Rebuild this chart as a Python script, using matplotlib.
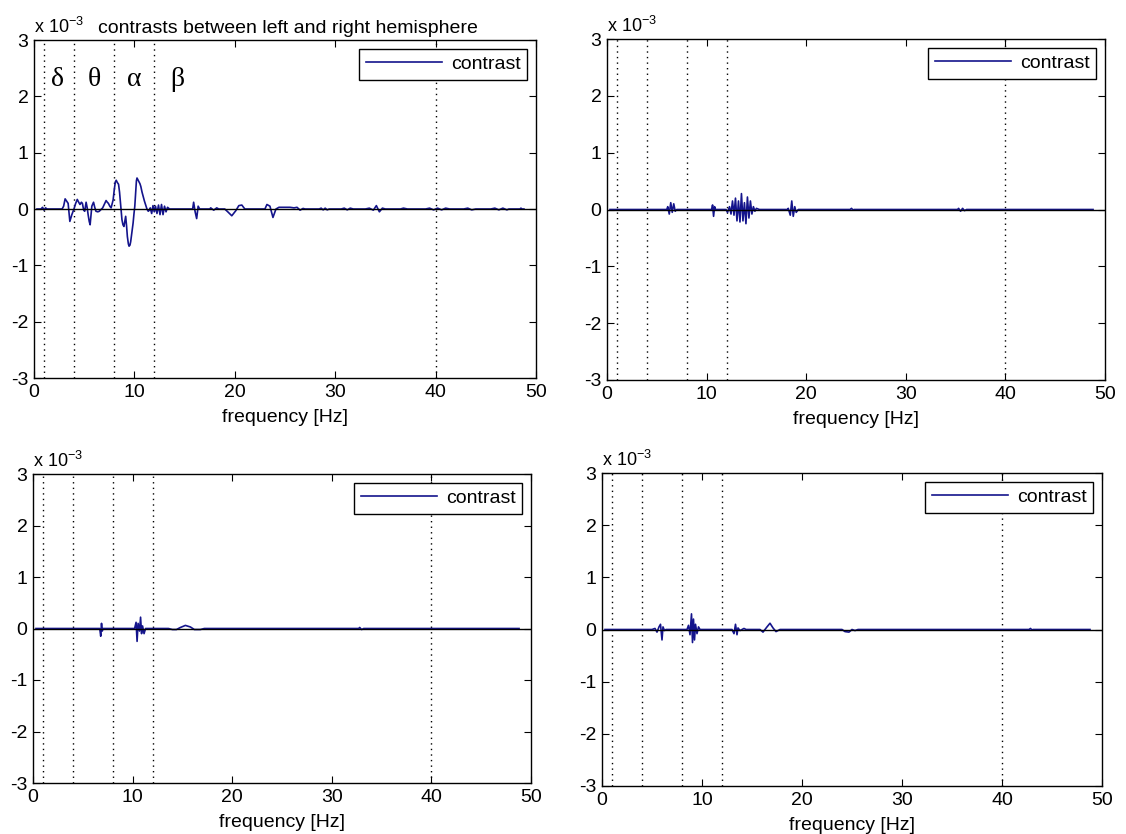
import numpy as np
import matplotlib
matplotlib.use('Agg')
import matplotlib.pyplot as plt

plt.rcParams['font.family'] = ['Liberation Sans', 'DejaVu Sans']
plt.rcParams['mathtext.default'] = 'regular'
plt.rcParams['axes.unicode_minus'] = False
plt.rcParams['font.size'] = 14

band_edges = [1, 4, 8, 12, 40]
band_names = ['δ', 'θ', 'α', 'β']
band_name_x = [2.3, 6.0, 10.0, 14.3]
band_name_y = 2.3
xticks = [0, 10, 20, 30, 40, 50]
yticks = [-3, -2, -1, 0, 1, 2, 3]
title_tl = 'contrasts between left and right hemisphere'

# contrast traces: (frequency [Hz], contrast [x 1e-3])
trace_tl = [(0.3, 0), (0.7, 0), (0.85, 0.03), (1.0, -0.02), (1.15, 0.02), (1.3, 0), (2.8, 0),
            (2.95, 0.05), (3.1, 0.18), (3.25, 0.14), (3.4, 0.1), (3.57, -0.22), (3.77, -0.1),
            (3.98, 0.0), (4.15, 0.1), (4.31, 0.17), (4.45, 0.12), (4.58, 0.08), (4.72, 0.12),
            (4.82, 0.1), (4.95, -0.02), (5.05, -0.04), (5.19, 0.12), (5.3, 0.02), (5.39, -0.1),
            (5.5, -0.22), (5.59, -0.28), (5.68, -0.1), (5.76, 0.05), (5.93, 0.12), (6.05, 0.03),
            (6.17, -0.04), (6.35, -0.05), (6.5, -0.04), (6.84, 0.02), (7.0, 0.08), (7.18, 0.15),
            (7.3, 0.12), (7.41, 0.1), (7.55, 0.05), (7.68, 0.02), (7.8, 0.1), (7.88, 0.16),
            (8.0, 0.35), (8.1, 0.48), (8.19, 0.51), (8.3, 0.47), (8.42, 0.44), (8.52, 0.3),
            (8.62, 0.1), (8.7, -0.08), (8.76, -0.19), (8.86, -0.28), (8.96, -0.31), (9.05, -0.22),
            (9.13, -0.13), (9.22, -0.3), (9.3, -0.49), (9.4, -0.62), (9.47, -0.66), (9.56, -0.64),
            (9.63, -0.58), (9.75, -0.42), (9.87, -0.25), (9.96, -0.08), (10.04, 0.05), (10.12, 0.28),
            (10.2, 0.5), (10.26, 0.55), (10.35, 0.52), (10.44, 0.49), (10.55, 0.45), (10.64, 0.4),
            (10.76, 0.3), (10.88, 0.22), (11.0, 0.14), (11.11, 0.08), (11.25, 0.0), (11.38, -0.04),
            (11.5, -0.02), (11.58, 0.02), (11.72, -0.08), (11.85, 0.06), (11.98, -0.05), (12.1, 0.05),
            (12.25, -0.08), (12.4, 0.07), (12.55, -0.1), (12.7, 0.08), (12.85, -0.1), (13.0, 0.05),
            (13.15, -0.05), (13.3, 0.03), (13.5, 0.0), (15.8, 0), (15.9, 0.12), (16.05, -0.05),
            (16.2, -0.17), (16.35, 0.05), (16.5, 0.0), (17.5, 0), (17.6, 0.02), (17.9, -0.02),
            (18.2, 0.02), (18.4, 0), (19.0, 0), (19.3, -0.05), (19.7, -0.12), (20.1, -0.03),
            (20.4, 0.06), (20.7, 0.07), (21.0, 0.0), (23.0, 0), (23.2, 0.08), (23.5, 0.05),
            (23.8, -0.15), (24.1, 0.0), (24.4, 0.03), (25.5, 0.03), (25.9, 0.02), (26.2, 0.03),
            (26.5, -0.02), (26.8, 0.01), (27.0, 0), (28.4, 0), (28.6, 0.015), (28.8, -0.015),
            (29.0, 0.015), (29.2, -0.015), (29.4, 0), (30.6, 0), (30.9, 0.015), (31.2, -0.015),
            (31.5, 0.015), (31.8, 0), (33.0, 0), (33.4, 0.015), (33.8, -0.02), (34.1, 0.06),
            (34.4, -0.05), (34.7, 0.015), (35.0, 0), (36.5, 0), (36.8, 0.015), (37.2, 0),
            (39.0, 0), (39.4, 0.015), (39.8, -0.015), (40.2, 0.015), (40.6, -0.015), (41.0, 0.015),
            (41.4, 0), (42.8, 0), (43.2, 0.015), (43.6, -0.015), (44.0, 0), (45.5, 0),
            (45.9, 0.015), (46.3, -0.015), (46.7, 0.015), (47.1, -0.015), (47.3, 0), (48.4, 0),
            (48.5, 0.015), (48.6, 0), (48.8, 0)]

trace_tr = [(0.3, 0), (6.0, 0), (6.1, 0.05), (6.25, -0.08), (6.4, 0.12), (6.55, -0.05), (6.7, 0.1),
            (6.85, -0.03), (7.0, 0), (10.5, 0), (10.6, 0.08), (10.7, -0.12), (10.8, 0.05), (10.9, 0),
            (11.95, 0.0), (12.1, -0.05), (12.3, 0.05), (12.45, -0.08), (12.6, 0.15), (12.75, -0.1),
            (12.9, 0.2), (13.05, -0.2), (13.2, 0.15), (13.35, -0.22), (13.5, 0.28), (13.65, -0.2),
            (13.8, 0.12), (13.95, -0.25), (14.1, 0.22), (14.25, -0.15), (14.4, 0.15), (14.55, -0.08),
            (14.7, 0.05), (14.85, -0.03), (15.0, 0.02), (15.3, 0.0), (18.1, 0), (18.2, 0.02),
            (18.4, -0.1), (18.55, 0.15), (18.7, -0.12), (18.85, 0.05), (19.0, -0.05), (19.2, 0),
            (24.4, 0), (24.55, 0.02), (24.7, -0.01), (24.8, 0), (35.2, 0), (35.3, 0.02), (35.5, -0.03),
            (35.7, 0.02), (35.9, -0.02), (36.1, 0), (48.8, 0)]

trace_bl = [(0.3, 0), (6.7, 0.0), (6.8, -0.15), (6.88, 0.1), (6.95, -0.05), (7.05, 0.0), (10.2, 0.0),
            (10.35, 0.12), (10.45, -0.25), (10.55, 0.1), (10.7, -0.05), (10.8, 0.22), (10.9, -0.1),
            (11.0, 0.05), (11.15, -0.1), (11.3, 0.0), (13.6, 0), (14.0, -0.02), (14.4, -0.02),
            (14.8, 0.02), (15.3, 0.06), (15.8, 0.03), (16.2, -0.02), (16.8, -0.02), (17.2, 0),
            (32.7, 0), (32.8, 0.02), (33.0, -0.02), (33.2, 0), (48.8, 0)]

trace_br = [(0.3, 0), (5.0, 0), (5.3, 0.02), (5.5, -0.05), (5.7, 0.05), (5.85, 0.1), (6.0, -0.2),
            (6.1, 0.05), (6.25, -0.02), (6.4, 0), (8.5, 0), (8.65, 0.08), (8.8, -0.1), (8.95, 0.3),
            (9.05, -0.25), (9.15, 0.2), (9.25, -0.2), (9.35, 0.1), (9.5, -0.08), (9.65, 0.05),
            (9.8, 0), (13.0, 0), (13.2, -0.08), (13.35, 0.1), (13.5, -0.1), (13.6, 0.03),
            (13.8, -0.02), (14.2, 0.02), (14.4, 0), (15.8, 0), (16.1, -0.05), (16.5, 0.05),
            (16.8, 0.12), (17.1, 0.03), (17.4, -0.04), (17.8, 0), (24.0, 0), (24.3, -0.04),
            (24.7, -0.05), (25.0, 0.0), (25.3, -0.02), (25.6, 0), (42.7, 0), (42.85, 0.02),
            (43.0, -0.01), (43.1, 0), (48.8, 0)]

W, H = 1126, 834
# axes boxes in pixels: left, top, right, bottom
boxes = [(34, 40, 536, 378), (607, 39, 1105, 380), (33, 474, 531, 783), (602, 473, 1102, 786)]
traces = [trace_tl, trace_tr, trace_bl, trace_br]

fig = plt.figure(figsize=(W / 100, H / 100), dpi=100)
for i, (box, tr) in enumerate(zip(boxes, traces)):
    l, t, r, b = box
    ax = fig.add_axes([l / W, 1 - b / H, (r - l) / W, (b - t) / H])
    f, v = np.array(tr).T
    ax.plot(f, v, color='#14148c', lw=1.2, label='contrast', zorder=2)
    ax.axhline(0, color='black', lw=1.0, zorder=3)
    for e in band_edges:
        ax.axvline(e, color='black', lw=1.0, ls=(0, (1, 3)), zorder=1)
    ax.set_xlim(0, 50)
    ax.set_ylim(-3, 3)
    ax.set_xticks(xticks)
    ax.set_yticks(yticks)
    ax.tick_params(direction='in', top=True, right=True, length=5, labelsize=14, pad=4)
    for s in ax.spines.values():
        s.set_linewidth(1.0)
    ax.set_xlabel('frequency [Hz]', fontsize=14, labelpad=6)
    ax.text(0.0, 1.01, 'x 10$^{-3}$', transform=ax.transAxes, fontsize=13, ha='left', va='bottom')
    leg = ax.legend(loc='upper right', handlelength=3.9, handletextpad=0.45, fancybox=False,
                    framealpha=1, edgecolor='black', borderaxespad=0.45, fontsize=14, borderpad=0.35)
    leg.get_frame().set_linewidth(1.0)
    if i == 0:
        ax.text(0.127, 1.01, title_tl, transform=ax.transAxes, fontsize=14, ha='left', va='bottom')
        for name, x in zip(band_names, band_name_x):
            ax.text(x, band_name_y, name, fontsize=20, family='Liberation Serif',
                    ha='center', va='center')

fig.savefig('out.png', dpi=100)
